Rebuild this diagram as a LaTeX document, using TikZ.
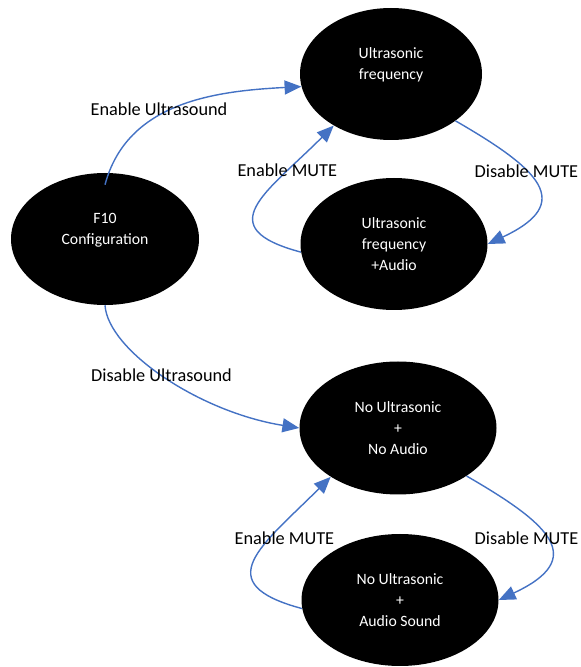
\documentclass[tikz,border=0pt]{standalone}
\usepackage{fontspec}
\setmainfont{Carlito}
\usepackage{tikz}
\usetikzlibrary{positioning,arrows.meta,shapes.geometric}
\definecolor{cBlue}{HTML}{4472C4}

\begin{document}
\begin{tikzpicture}[
      state/.style={ellipse,fill=black,draw=none,inner sep=0pt,align=center,text=white,
                    minimum height=3.3cm,font=\fontsize{11.2}{14.9}\selectfont},
      lbl/.style={inner sep=0pt,text=black,font=\fontsize{13}{15.6}\selectfont},
      arr/.style={-{Triangle[length=4.2mm,width=3.5mm]},cBlue,line width=1pt}]
    \useasboundingbox (0,0) rectangle (14.525,16.675);
    \node[state,minimum width=4.7cm] (cfg) at (2.625,10.7) {F10\\Configuration\\\mbox{}};
    \node[state,minimum width=4.55cm] (uf) at (9.775,14.825) {Ultrasonic\\frequency\\\mbox{}};
    \node[state,minimum width=4.675cm] (ufa) at (9.85,10.575) {Ultrasonic\\frequency\\+Audio};
    \node[state,minimum width=4.925cm,minimum height=3.325cm] (nn) at (9.95,5.975) {No Ultrasonic\\+\\No Audio};
    \node[state,minimum width=4.925cm] (na) at (10,1.675) {No Ultrasonic\\+\\Audio Sound};
    % ultrasound on / off
    \draw[arr] ([yshift=-0.3cm]cfg.north) to[out=75,in=183]
      node[lbl,pos=0.4,yshift=0.15cm] {Enable Ultrasound} (uf.188);
    \draw[arr] (cfg.south) .. controls +(0.075,-1.125) and +(-2.5,0.4) ..
      node[lbl,pos=0.48] {Disable Ultrasound} (nn.west);
    % mute loops
    \draw[arr] (uf.-36) to[out=-30,in=25,looseness=1.95]
      node[lbl,pos=0.38] {Disable MUTE} (ufa.east);
    \draw[arr] (ufa.185) to[out=165,in=225,looseness=1.86]
      node[lbl,pos=0.75] {Enable MUTE} (uf.222);
    \draw[arr] (nn.-35) to[out=-30,in=25,looseness=1.95]
      node[lbl,pos=0.48,xshift=-0.5cm] {Disable MUTE} (na.east);
    \draw[arr] (na.185) to[out=165,in=225,looseness=1.86]
      node[lbl,pos=0.65,xshift=0.375cm] {Enable MUTE} (nn.216);
\end{tikzpicture}
\end{document}
